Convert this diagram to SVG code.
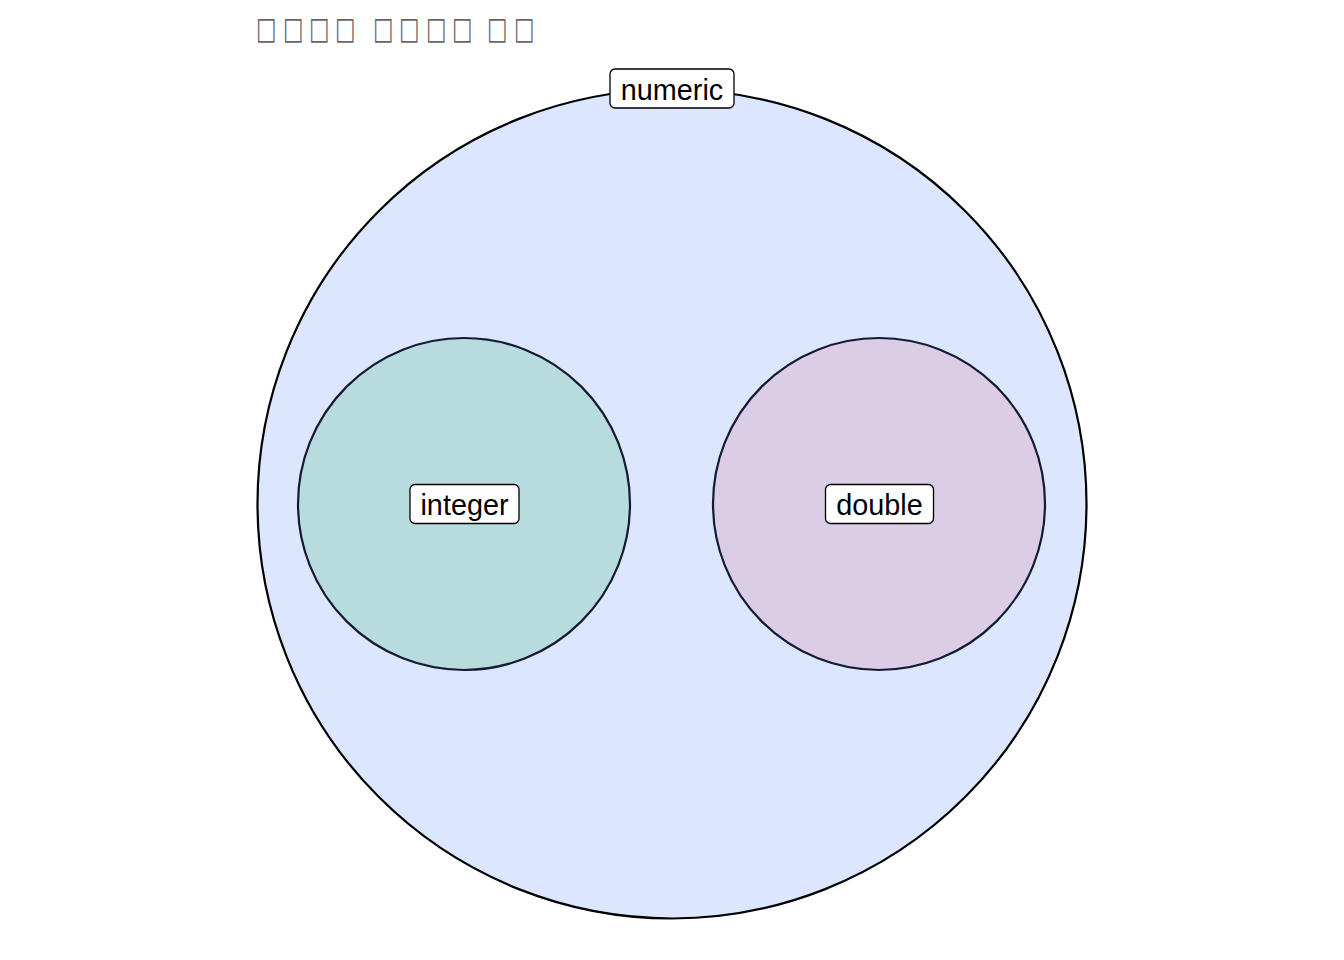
<svg xmlns="http://www.w3.org/2000/svg" width="1344" height="960" viewBox="0 0 1344 960">
<style>
.lbl{font-family:"Liberation Sans",Arial,sans-serif;font-size:28.8px;fill:#000;text-anchor:middle}
.box{fill:#fff;stroke:#000;stroke-width:1.3}
.title{font-family:"DejaVu Sans",sans-serif;font-size:24px;fill:#666}
</style>
<rect width="1344" height="960" fill="#fff"/>
<g id="title">
<text class="title" transform="scale(0.9,1.3)" x="284.4 314.4 343.3 372.2 414.4 443.3 473.3 502.2 541.1 571.1" y="30">□□□□□□□□□□</text>
</g>
<g id="numeric">
<circle cx="672" cy="504" r="414.5" fill="#dce6fe" stroke="#000" stroke-width="2.2"/>
</g>
<g id="integer">
<circle cx="464" cy="504" r="166" fill="#b8dbdd" stroke="#141a33" stroke-width="2.2"/>
<rect class="box" x="410" y="484.5" width="109" height="39" rx="5"/>
<text class="lbl" x="464.5" y="514.5">integer</text>
</g>
<g id="double">
<circle cx="879" cy="504" r="166" fill="#dbcde6" stroke="#141a33" stroke-width="2.2"/>
<rect class="box" x="825.5" y="484.5" width="108" height="39" rx="5"/>
<text class="lbl" x="879.5" y="514.5">double</text>
</g>
<g id="numeric-label">
<rect class="box" x="610" y="69" width="124" height="39" rx="5"/>
<text class="lbl" x="672" y="99.5">numeric</text>
</g>
<g id="connectors"></g>
</svg>
